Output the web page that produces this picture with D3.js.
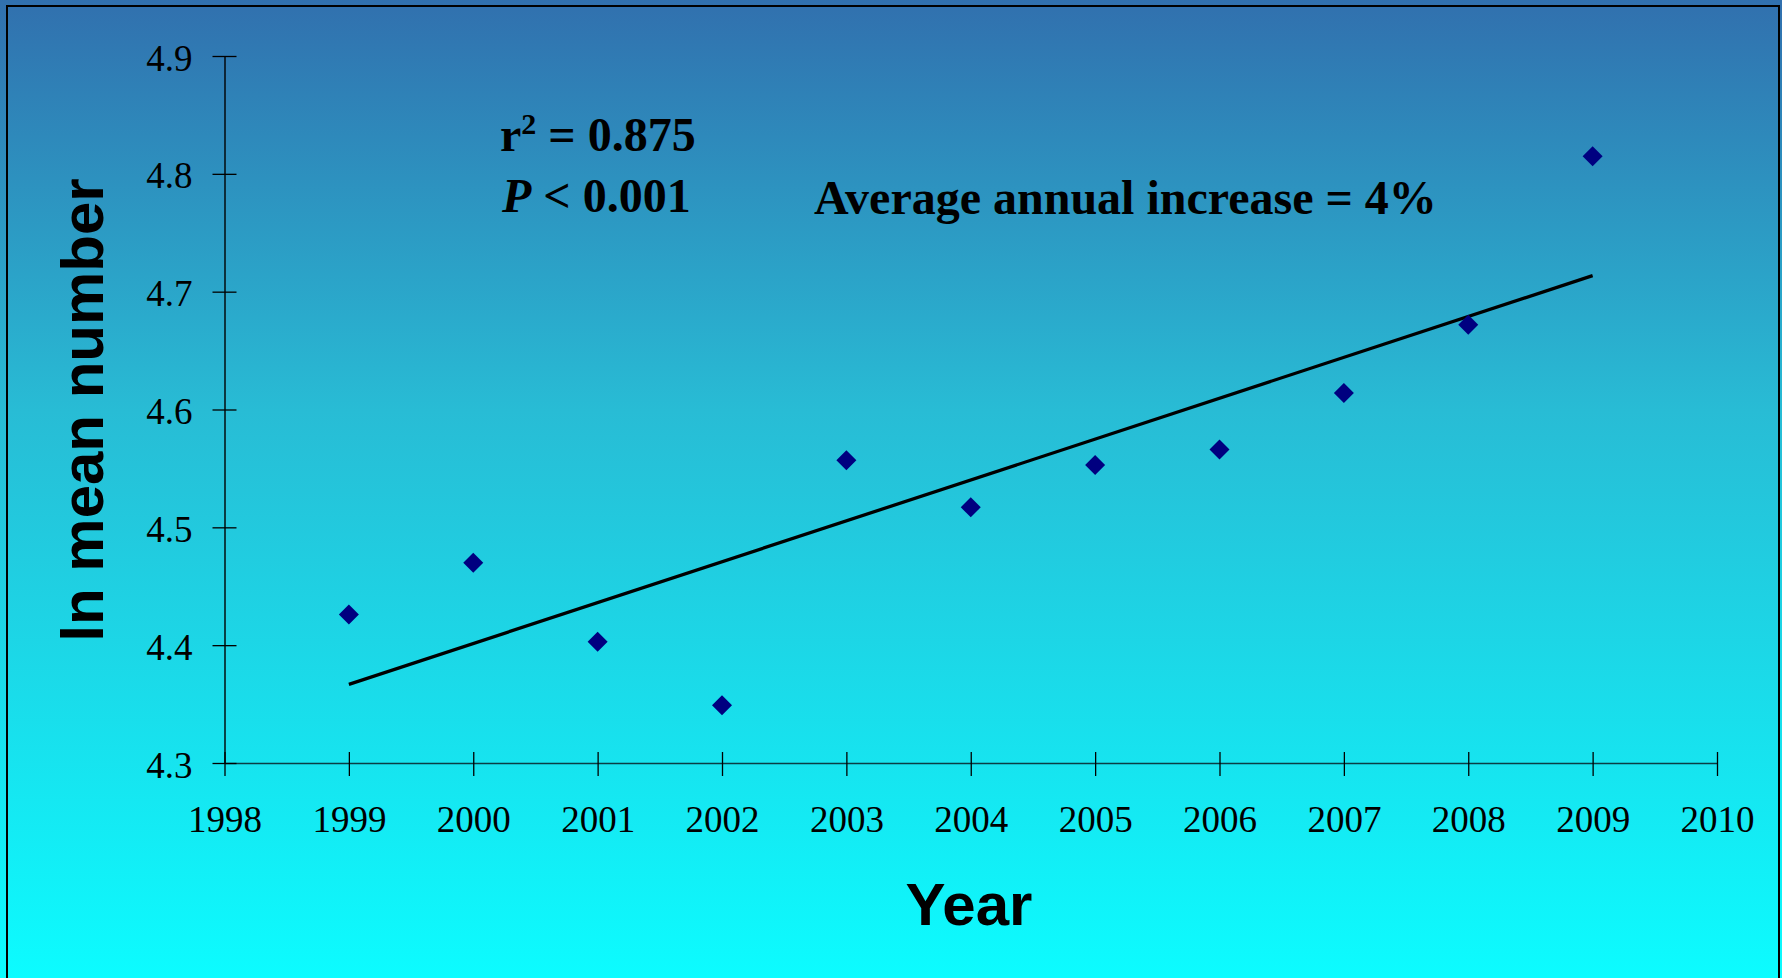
<!DOCTYPE html>
<html>
<head>
<meta charset="utf-8">
<script src="https://cdn.jsdelivr.net/npm/d3@7"></script>
<style>
  html, body { margin: 0; padding: 0; overflow: hidden; }
  svg { display: block; }
</style>
</head>
<body>
<svg id="chart" width="1782" height="978"></svg>
<script>
// ---- data ----
const years = [1999, 2000, 2001, 2002, 2003, 2004, 2005, 2006, 2007, 2008, 2009];
const lnMean = [4.426, 4.470, 4.403, 4.349, 4.557, 4.517, 4.553, 4.566, 4.614, 4.672, 4.815];
const xTicks = [1998, 1999, 2000, 2001, 2002, 2003, 2004, 2005, 2006, 2007, 2008, 2009, 2010];
const yTicks = [4.3, 4.4, 4.5, 4.6, 4.7, 4.8, 4.9];
const statLine1 = "0.875";
const statLine2 = "0.001";
const increaseText = "Average annual increase = 4%";

const svg = d3.select("#chart");
const W = 1782, H = 978;

// background gradient
const defs = svg.append("defs");
const grad = defs.append("linearGradient").attr("id", "bg")
  .attr("x1", 0).attr("y1", 0).attr("x2", 0).attr("y2", 1);
grad.append("stop").attr("offset", "0%").attr("stop-color", "#3170ae");
grad.append("stop").attr("offset", "42%").attr("stop-color", "#28bcd5");
grad.append("stop").attr("offset", "100%").attr("stop-color", "#0cfcff");
svg.append("rect").attr("width", W).attr("height", H).attr("fill", "url(#bg)");

// frame
svg.append("rect").attr("x", 7).attr("y", 6).attr("width", 1772).attr("height", 990)
  .attr("fill", "none").attr("stroke", "#000").attr("stroke-width", 2);

const x = d3.scaleLinear().domain([1998, 2010]).range([224.5, 1717]);
const y = d3.scaleLinear().domain([4.3, 4.9]).range([763, 56]);

const serif = "'Liberation Serif', 'Times New Roman', serif";
const sans = "'Liberation Sans', Arial, sans-serif";

// x axis
const xAxis = svg.append("g").attr("transform", `translate(0,${y(4.3)})`)
  .call(d3.axisBottom(x).tickValues(xTicks).tickFormat(d3.format("d")).tickSize(0).tickPadding(0));
xAxis.select(".domain").attr("stroke", "#0b3d44").attr("stroke-width", 1.6);
xAxis.selectAll(".tick").append("line").attr("y1", -11).attr("y2", 13)
  .attr("stroke", "#000").attr("stroke-width", 1.3);
xAxis.selectAll(".tick text").attr("y", 69).attr("dy", 0)
  .attr("font-family", serif).attr("font-size", 37).attr("fill", "#000");

// y axis
const yAxis = svg.append("g").attr("transform", `translate(${x(1998)},0)`)
  .call(d3.axisLeft(y).tickValues(yTicks).tickFormat(d3.format(".1f")).tickSize(0).tickPadding(0));
yAxis.select(".domain").attr("stroke", "#000").attr("stroke-width", 1.4);
yAxis.selectAll(".tick").append("line").attr("x1", -12).attr("x2", 12)
  .attr("stroke", "#000").attr("stroke-width", 1.3);
yAxis.selectAll(".tick text").attr("x", -32).attr("dy", "0.38em")
  .attr("font-family", serif).attr("font-size", 37).attr("fill", "#000");

// regression line computed from data
const mx = d3.mean(years), my = d3.mean(lnMean);
const slope = d3.sum(years, (d, i) => (d - mx) * (lnMean[i] - my)) / d3.sum(years, d => (d - mx) * (d - mx));
const icpt = my - slope * mx;
const xr = d3.extent(years);
svg.append("path")
  .datum(xr.map(v => [v, icpt + slope * v]))
  .attr("d", d3.line().x(d => x(d[0])).y(d => y(d[1])))
  .attr("stroke", "#000").attr("stroke-width", 3.3).attr("fill", "none");

// points
const diamond = d3.symbol().type(d3.symbolSquare).size(200);
svg.append("g").selectAll("path").data(years).join("path")
  .attr("d", diamond)
  .attr("transform", (d, i) => `translate(${x(d)},${y(lnMean[i])}) rotate(45)`)
  .attr("fill", "#000080");

// annotations
const t1 = svg.append("text").attr("x", 500).attr("y", 151)
  .attr("font-family", serif).attr("font-size", 48).attr("font-weight", "bold").attr("fill", "#000");
t1.append("tspan").text("r");
t1.append("tspan").attr("font-size", 30).attr("dy", -17).text("2");
t1.append("tspan").attr("dy", 17).text(" = " + statLine1);

const t2 = svg.append("text").attr("x", 502).attr("y", 212)
  .attr("font-family", serif).attr("font-size", 48).attr("font-weight", "bold").attr("fill", "#000");
t2.append("tspan").attr("font-style", "italic").text("P");
t2.append("tspan").text(" < " + statLine2);

svg.append("text").attr("x", 814).attr("y", 214)
  .attr("font-family", serif).attr("font-size", 48).attr("font-weight", "bold").attr("fill", "#000")
  .text(increaseText);

// axis titles
svg.append("text").attr("transform", "translate(103,410) rotate(-90)")
  .attr("text-anchor", "middle")
  .attr("font-family", sans).attr("font-size", 60).attr("font-weight", "bold").attr("fill", "#000")
  .text("ln mean number");

svg.append("text").attr("x", 969).attr("y", 925)
  .attr("text-anchor", "middle")
  .attr("font-family", sans).attr("font-size", 60).attr("font-weight", "bold").attr("fill", "#000")
  .text("Year");
</script>
</body>
</html>
